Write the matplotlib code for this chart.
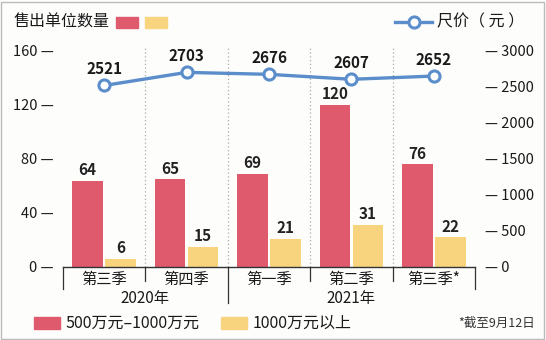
import matplotlib.pyplot as plt
from matplotlib.patches import Rectangle
from matplotlib.lines import Line2D
import numpy as np

plt.rcParams['font.family'] = ['Noto Sans CJK SC', 'DejaVu Sans']

# 数据
quarters = ["第三季", "第四季", "第一季", "第二季", "第三季*"]
years = ["2020年", "2021年"]
year_span = [(0, 1), (2, 4)]
units_mid = [64, 65, 69, 120, 76]       # 500万元–1000万元
units_high = [6, 15, 21, 31, 22]        # 1000万元以上
price = [2521, 2703, 2676, 2607, 2652]  # 尺价（元）

red = "#E05A6E"
yellow = "#F8D47E"
blue = "#5B8DCB"
txt = "#1a1a1a"

W, H = 546, 340
fig = plt.figure(figsize=(W / 100, H / 100), dpi=100)
fig.patch.set_facecolor("#fdfdfc")

ax_l, ax_r, ax_t, ax_b = 63, 475, 51, 267
ax = fig.add_axes([ax_l / W, 1 - ax_b / H, (ax_r - ax_l) / W, (ax_b - ax_t) / H])
ax.set_facecolor("none")
x = np.arange(len(quarters))
w = 0.37
b1 = ax.bar(x - 0.2, units_mid, w, color=red)
b2 = ax.bar(x + 0.2, units_high, w, color=yellow)
for rect, v in zip(b1, units_mid):
    ax.text(rect.get_x() + rect.get_width() / 2, v + 2, str(v), ha="center", va="bottom",
            fontsize=11, fontweight="bold", color="#222222")
for rect, v in zip(b2, units_high):
    ax.text(rect.get_x() + rect.get_width() / 2, v + 2, str(v), ha="center", va="bottom",
            fontsize=11, fontweight="bold", color="#222222")

ax.set_xlim(-0.5, len(quarters) - 0.5)
ax.set_ylim(0, 160)
ax.set_yticks([0, 40, 80, 120, 160])
ax.set_yticklabels([f"{t} —" for t in [0, 40, 80, 120, 160]], fontsize=10.5, color=txt)
ax.tick_params(axis="y", length=0, pad=7)
ax.set_xticks([])
for s in ax.spines.values():
    s.set_visible(False)

# 分隔虚线
for i in range(1, len(quarters)):
    ax.plot([i - 0.5, i - 0.5], [0, 164], ls=(0, (1, 2)), color="#aaaaaa", lw=0.9, clip_on=False)

# 横轴
ax.plot([-0.5, len(quarters) - 0.5], [0, 0], color="#333333", lw=1, clip_on=False)
for i in range(len(quarters) + 1):
    bottom = -16 if i in (0, len(quarters)) else -10
    if i == 2:
        bottom = -27
    ax.plot([i - 0.5, i - 0.5], [0, bottom], color="#333333", lw=0.9, clip_on=False)
for i, q in enumerate(quarters):
    ax.text(i, -9, q, ha="center", va="center", fontsize=11, color=txt, clip_on=False)
for (a, b), yname in zip(year_span, years):
    ax.text((a + b) / 2, -23, yname, ha="center", va="center", fontsize=11, color=txt, clip_on=False)

# 右轴：尺价
ax2 = ax.twinx()
ax2.set_facecolor("none")
ax2.set_ylim(0, 3000)
ax2.plot(x, price, color=blue, lw=2.4, marker="o", ms=8, mfc="white", mec=blue, mew=2.2)
for xi, p in zip(x, price):
    ax2.text(xi, p + 115, str(p), ha="center", va="bottom", fontsize=11, fontweight="bold", color=txt)
ax2.set_yticks([0, 500, 1000, 1500, 2000, 2500, 3000])
ax2.set_yticklabels([f"— {t}" for t in [0, 500, 1000, 1500, 2000, 2500, 3000]], fontsize=10.5, color=txt)
ax2.tick_params(axis="y", length=0, pad=7)
for s in ax2.spines.values():
    s.set_visible(False)

# 顶部图例
fig.text(13 / W, 1 - 22 / H, "售出单位数量", ha="left", va="center", fontsize=11.5, color=txt)
fig.patches.append(Rectangle((116 / W, 1 - 28 / H), 22 / W, 11 / H, transform=fig.transFigure, color=red))
fig.patches.append(Rectangle((145 / W, 1 - 28 / H), 22 / W, 11 / H, transform=fig.transFigure, color=yellow))
fig.lines.append(Line2D([395 / W, 432 / W], [1 - 22 / H] * 2, transform=fig.transFigure, color=blue, lw=2.4))
fig.lines.append(Line2D([413.5 / W], [1 - 22 / H], transform=fig.transFigure, marker="o", ms=8,
                        mfc="white", mec=blue, mew=2.2))
fig.text(437 / W, 1 - 22 / H, "尺价（ 元 ）", ha="left", va="center", fontsize=11.5, color=txt)

# 底部图例
fig.patches.append(Rectangle((34 / W, 1 - 329 / H), 26 / W, 12 / H, transform=fig.transFigure, color=red))
fig.text(66 / W, 1 - 323 / H, "500万元–1000万元", ha="left", va="center", fontsize=11.5, color=txt)
fig.patches.append(Rectangle((221 / W, 1 - 329 / H), 26 / W, 12 / H, transform=fig.transFigure, color=yellow))
fig.text(253 / W, 1 - 323 / H, "1000万元以上", ha="left", va="center", fontsize=11.5, color=txt)
fig.text(458 / W, 1 - 323 / H, "*截至9月12日", ha="left", va="center", fontsize=9, color="#333333")

# 边框
fig.patches.append(Rectangle((1 / W, 1 / H), 1 - 3 / W, 1 - 3 / H, transform=fig.transFigure,
                             fill=False, ec="#bbbbbb", lw=1))

fig.savefig("out.png", dpi=100)
